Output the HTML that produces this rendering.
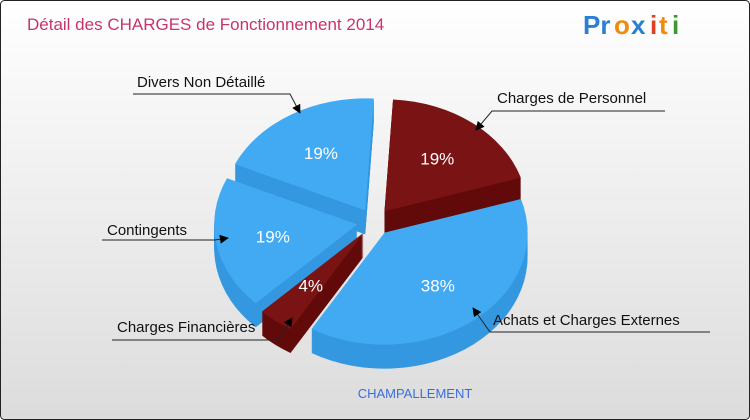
<!DOCTYPE html>
<html><head><meta charset="utf-8"><style>
html,body{margin:0;padding:0;width:750px;height:420px;overflow:hidden;background:#fff}
svg{display:block}
text{font-family:"Liberation Sans",sans-serif}
</style></head><body>
<svg id="chart" width="750" height="420">
<defs>
<linearGradient id="bg" x1="0" y1="0" x2="0" y2="1"><stop offset="0" stop-color="#ffffff"/><stop offset="1" stop-color="#dcdcdc"/></linearGradient>
<marker id="arr" viewBox="0 0 10 10" refX="9" refY="5" markerWidth="9" markerHeight="9" orient="auto"><path d="M0,0 L10,5 L0,10 z" fill="#000"/></marker>
</defs>
<rect x="0.5" y="0.5" width="749" height="419" rx="4" fill="url(#bg)" stroke="#222"/>
<text x="27" y="30" font-size="17" fill="#c8336e">Détail des CHARGES de Fonctionnement 2014</text>
<g font-size="26" font-weight="bold">
<text x="583" y="34" fill="#2a7fd4">Pr</text><text x="614" y="34" fill="#f08a10">o</text><text x="631" y="34" fill="#2a7fd4">x</text><text x="650" y="34" fill="#e04020">i</text><text x="659" y="34" fill="#f08a10">t</text><text x="672" y="34" fill="#3a9a30">i</text>
</g>
<g id="slices"></g>
<g id="labels"></g>
<text x="415" y="398" font-size="13" fill="#3a6fd8" text-anchor="middle">CHAMPALLEMENT</text>
</svg>
<script>
const categories=["Charges de Personnel","Achats et Charges Externes","Charges Financières","Contingents","Divers Non Détaillé"];
const values=[19,38,4,19,19];
const pctLabels=["19%","38%","4%","19%","19%"];
const colors=["#7a1414","#42aaf2","#7a1414","#42aaf2","#42aaf2"];
const sideColors=["#620a0a","#3498e0","#620a0a","#3498e0","#3498e0"];
const labelText=[[497,103],[493,325],[117,332],[107,235],[137,87]];
const labelLines=[[[665,111],[492,111],[476,130]],[[710,332],[490,332],[473,308]],[[112,340],[278,340],[292,318]],[[102,240],[215,240],[228,238]],[[133,94],[290,94],[300,113]]];
const NS="http://www.w3.org/2000/svg";
const cx=374,cy=222,rx=143,ry=112,depth=24,explode=17,rot=0.06;
const total=values.reduce((a,b)=>a+b,0);
function pt(a,r){return [cx+rx*r*Math.sin(a),cy-ry*r*Math.cos(a)];}
let start=rot;const sl=[];
values.forEach((v,i)=>{const sweep=v/total*2*Math.PI;sl.push({i,s:start,e:start+sweep,m:start+sweep/2});start+=sweep;});
function path(s,e,dx,dy){const p0=pt(s,1),p1=pt(e,1);const large=(e-s)>Math.PI?1:0;
return `M${cx+dx},${cy+dy} L${p0[0]+dx},${p0[1]+dy} A${rx},${ry} 0 ${large} 1 ${p1[0]+dx},${p1[1]+dy} Z`;}
const g=document.getElementById('slices');
sl.slice().sort((a,b)=>(-Math.cos(a.m))-(-Math.cos(b.m))).forEach(o=>{
 const ox=Math.sin(o.m)*explode, oy=-Math.cos(o.m)*explode*0.8;
 const grp=document.createElementNS(NS,'g');
 
 
 for(let d=depth;d>0;d-=1){const p=document.createElementNS(NS,'path');p.setAttribute('d',path(o.s,o.e,ox,oy+d));p.setAttribute('fill',sideColors[o.i]);grp.appendChild(p);}
 const t=document.createElementNS(NS,'path');t.setAttribute('d',path(o.s,o.e,ox,oy));t.setAttribute('fill',colors[o.i]);grp.appendChild(t);
 const lp=pt(o.m,0.6);const tx=document.createElementNS(NS,'text');
 tx.setAttribute('x',lp[0]+ox);tx.setAttribute('y',lp[1]+oy+6);tx.setAttribute('fill','#fff');tx.setAttribute('font-size','17');tx.setAttribute('text-anchor','middle');
 tx.textContent=pctLabels[o.i];
 
 
 grp.appendChild(tx);g.appendChild(grp);
});
const lg=document.getElementById('labels');
categories.forEach((c,i)=>{
 const t=document.createElementNS(NS,'text');t.setAttribute('x',labelText[i][0]);t.setAttribute('y',labelText[i][1]);t.setAttribute('font-size','15');t.setAttribute('fill','#111');t.textContent=c;
 
 
 lg.appendChild(t);
 const pl=document.createElementNS(NS,'polyline');pl.setAttribute('points',labelLines[i].map(p=>p.join(',')).join(' '));pl.setAttribute('fill','none');pl.setAttribute('stroke','#222');pl.setAttribute('stroke-width','1');pl.setAttribute('marker-end','url(#arr)');
 
 
 lg.appendChild(pl);
});
</script>
</body></html>
